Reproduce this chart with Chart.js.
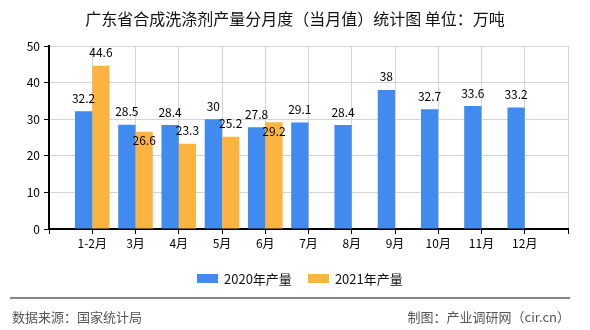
<!DOCTYPE html>
<html>
<head>
<meta charset="utf-8">
<script src="https://cdn.jsdelivr.net/npm/chart.js@4.4.0/dist/chart.umd.min.js"></script>
<style>
  body { margin: 0; background: #fff; font-family: "Noto Sans CJK SC", sans-serif; }
  #wrap { position: relative; width: 590px; height: 330px; overflow: hidden; }
  #barChart { position: absolute; left: 0; top: 0; }
  .title { position: absolute; left: 0; top: 7px; width: 590px; text-align: center; font-size: 16px; line-height: 22px; color: #111; }
  .legend { position: absolute; left: 197px; top: 268px; height: 20px; display: flex; align-items: center; font-size: 13px; color: #111; }
  .legend span.box { display: inline-block; width: 21px; height: 9px; margin-right: 6px; }
  .legend span.item { display: inline-flex; align-items: center; margin-right: 16px; }
  .rule { position: absolute; left: 10px; top: 297px; width: 560px; height: 2px; background: #888; }
  .foot { position: absolute; top: 308px; font-size: 13px; line-height: 18px; color: #555; }
</style>
</head>
<body>
<div id="wrap">
  <canvas id="barChart" width="590" height="330"></canvas>
  <div class="title">广东省合成洗涤剂产量分月度（当月值）统计图 单位：万吨</div>
  <div class="legend" id="legend"></div>
  <div class="rule"></div>
  <div class="foot" style="left:12px">数据来源：国家统计局</div>
  <div class="foot" style="right:20px">制图：产业调研网（cir.cn）</div>
</div>
<script>
// months, with an empty slot at each end of the axis
var months = ["", "1-2月", "3月", "4月", "5月", "6月", "7月", "8月", "9月", "10月", "11月", "12月", ""];
var seriesNames = ["2020年产量", "2021年产量"];
var seriesColors = ["#418bee", "#fcb441"];
var output2020 = [null, 32.2, 28.5, 28.4, 30, 27.8, 29.1, 28.4, 38, 32.7, 33.6, 33.2, null];
var output2021 = [null, 44.6, 26.6, 23.3, 25.2, 29.2, null, null, null, null, null, null, null];
var yTicks = [0, 10, 20, 30, 40, 50];

var labelFont = '12px "Noto Sans CJK SC", sans-serif';

// value labels above each bar; a 2021 label that would collide with the 2020 one goes inside its bar
var valueLabels = {
    id: "valueLabels",
    afterDatasetsDraw: function (chart) {
        var ctx = chart.ctx;
        var m0 = chart.getDatasetMeta(0), m1 = chart.getDatasetMeta(1);
        ctx.save();
        ctx.font = labelFont;
        ctx.fillStyle = "#000";
        ctx.textAlign = "center";
        ctx.textBaseline = "middle";
        for (var i = 0; i < months.length; i++) {
            var y0 = null;
            if (output2020[i] != null) {
                var b0 = m0.data[i];
                y0 = b0.y - 13;
                ctx.fillText(String(output2020[i]), b0.x, y0);
            }
            if (output2021[i] != null) {
                var b1 = m1.data[i];
                var y1 = b1.y - 13;
                if (y0 != null && Math.abs(y1 - y0) < 14) y1 = b1.y + 9;
                ctx.fillText(String(output2021[i]), b1.x, y1);
            }
        }
        ctx.restore();
    }
};

var ctx = document.getElementById("barChart").getContext("2d");
var barChart = new Chart(ctx, {
    type: "bar",
    data: {
        labels: months,
        datasets: [
            { label: seriesNames[0], data: output2020, backgroundColor: seriesColors[0] },
            { label: seriesNames[1], data: output2021, backgroundColor: seriesColors[1] }
        ]
    },
    options: {
        responsive: false,
        animation: false,
        devicePixelRatio: 1,
        categoryPercentage: 0.8,
        barPercentage: 1,
        layout: { padding: { left: 0, right: 22, top: 46, bottom: 77 } },
        plugins: {
            legend: { display: false },
            tooltip: { enabled: false }
        },
        scales: {
            x: {
                offset: false,
                grid: { offset: false, color: "#d4d4d4", tickColor: "#000", tickLength: 5 },
                border: { color: "#000", width: 2 },
                ticks: { padding: 2, color: "#000", font: { family: "Noto Sans CJK SC", size: 12 }, maxRotation: 0, autoSkip: false },
                afterFit: function (s) { s.height = 24; }
            },
            y: {
                min: yTicks[0],
                max: yTicks[yTicks.length - 1],
                afterBuildTicks: function (s) { s.ticks = yTicks.map(function (v) { return { value: v }; }); },
                grid: { color: "#d4d4d4", tickColor: "#000", tickLength: 5 },
                border: { color: "#000", width: 2 },
                ticks: { padding: 4, color: "#000", font: { family: "Noto Sans CJK SC", size: 12 } },
                afterFit: function (s) { s.width = 49; }
            }
        }
    },
    plugins: [valueLabels]
});

// legend
var legend = document.getElementById("legend");
seriesNames.forEach(function (name, i) {
    var item = document.createElement("span");
    item.className = "item";
    item.innerHTML = '<span class="box" style="background:' + seriesColors[i] + '"></span>' + name;
    legend.appendChild(item);
});
</script>
</body>
</html>
